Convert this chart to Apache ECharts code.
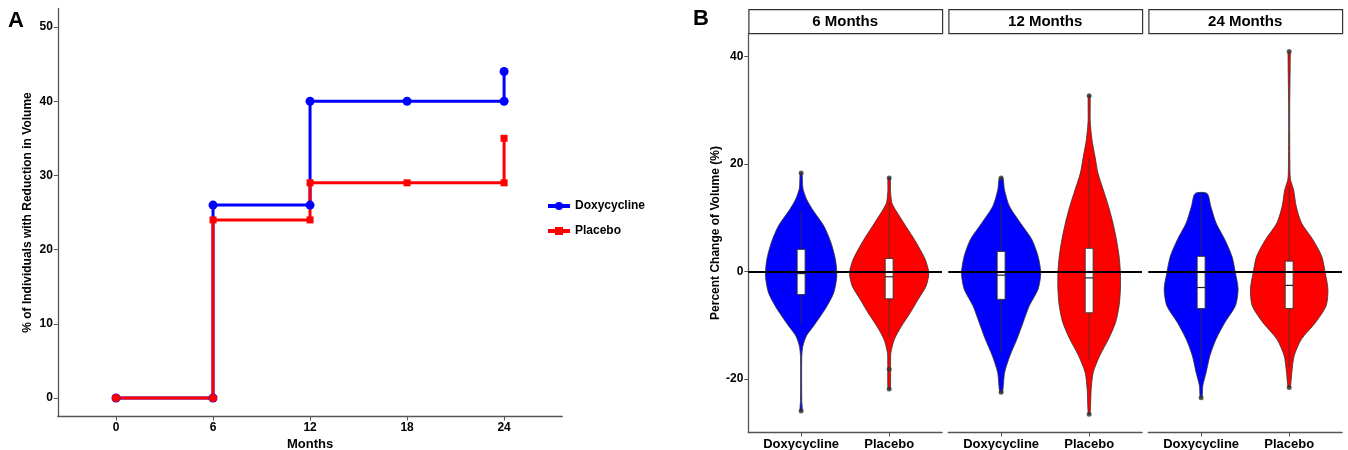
<!DOCTYPE html>
<html>
<head>
<meta charset="utf-8">
<script src="https://cdn.jsdelivr.net/npm/echarts@6/dist/echarts.min.js"></script>
<style>
  html, body { margin: 0; padding: 0; background: #fff; }
  #chart { width: 1348px; height: 450px; }
</style>
</head>
<body>
<div id="chart"></div>
<script>
// Panel A: step curve of % with reduction in volume
const panelAMonths = [0, 6, 6, 12, 12, 18, 24, 24];
const doxyPct = [0, 0, 26, 26, 40, 40, 40, 44];
const placeboPct = [0, 0, 24, 24, 29, 29, 29, 35];
const monthTicks = [0, 6, 12, 18, 24];
const pctTicks = [0, 10, 20, 30, 40, 50];

// Panel B: facets and groups
const facets = ["6 Months", "12 Months", "24 Months"];
const groups = ["Doxycycline", "Placebo"];
const changeTicks = [-20, 0, 20, 40];

// violin outlines: [percent change, half width in category units]
const violinDoxy6 = [[18.3, 0.01], [15.5, 0.02], [13.5, 0.06], [11.5, 0.13], [8.4, 0.26], [5.3, 0.34], [2.2, 0.39], [-0.9, 0.405], [-4.0, 0.37], [-7.1, 0.27], [-10.2, 0.14], [-12.0, 0.06], [-13.9, 0.02], [-16, 0.007], [-24, 0.007], [-26, 0.012]];
const violinPlacebo6 = [[17.4, 0.012], [15, 0.015], [12.8, 0.03], [11.5, 0.07], [8.4, 0.19], [5.3, 0.31], [2.2, 0.41], [-0.3, 0.45], [-2.7, 0.42], [-5.2, 0.33], [-7.7, 0.24], [-10.2, 0.14], [-12.6, 0.06], [-15.1, 0.02], [-17, 0.016], [-21.9, 0.013]];
const violinDoxy12 = [[17.4, 0.02], [15.2, 0.038], [12.1, 0.095], [9.0, 0.22], [5.9, 0.35], [2.8, 0.42], [-0.3, 0.45], [-3.3, 0.42], [-6.4, 0.32], [-9.5, 0.25], [-12.6, 0.18], [-15.7, 0.10], [-18.8, 0.04], [-22.5, 0.015]];
const violinPlacebo12 = [[32.7, 0.01], [28, 0.012], [24.5, 0.032], [21.4, 0.066], [18.3, 0.10], [15.2, 0.16], [12.1, 0.22], [9.0, 0.27], [5.9, 0.31], [2.8, 0.34], [-0.3, 0.355], [-3.3, 0.355], [-6.4, 0.34], [-9.5, 0.30], [-12.6, 0.22], [-15.7, 0.12], [-18.8, 0.046], [-21.9, 0.023], [-26.6, 0.01]];
const violinDoxy24 = [[14.5, 0.068], [12.1, 0.11], [9.0, 0.17], [5.9, 0.27], [2.8, 0.35], [-0.3, 0.39], [-3.3, 0.42], [-6.4, 0.39], [-9.5, 0.27], [-12.6, 0.17], [-15.7, 0.10], [-18.8, 0.057], [-21.2, 0.02], [-23.5, 0.01]];
const violinPlacebo24 = [[40.9, 0.01], [39, 0.012], [30, 0.006], [20, 0.008], [17.1, 0.015], [15.2, 0.05], [12.1, 0.08], [9.0, 0.14], [5.9, 0.27], [2.8, 0.37], [-0.3, 0.41], [-3.3, 0.44], [-6.4, 0.42], [-9.5, 0.30], [-12.6, 0.14], [-15.7, 0.057], [-18.8, 0.03], [-21.6, 0.012]];

// box stats: [low whisker, Q1, median, Q3, high whisker]
const boxDoxy6 = [-9.9, -4.3, -0.4, 4.1, 11.2];
const boxPlacebo6 = [-12.3, -5.1, -1.0, 2.4, 12.8];
const boxDoxy12 = [-15.1, -5.2, -0.7, 3.7, 12.8];
const boxPlacebo12 = [-16.4, -7.7, -1.2, 4.3, 21.1];
const boxDoxy24 = [-17.9, -6.9, -3.0, 2.8, 14.5];
const boxPlacebo24 = [-17.8, -6.9, -2.6, 1.9, 16.0];

// outlier dots
const outDoxy6 = [18.3, -26.0];
const outPlacebo6 = [17.4, -18.2, -21.9];
const outDoxy12 = [17.4, -22.5];
const outPlacebo12 = [32.7, -26.6];
const outDoxy24 = [-23.5];
const outPlacebo24 = [40.9, -21.6];

const violins = [[violinDoxy6, violinPlacebo6], [violinDoxy12, violinPlacebo12], [violinDoxy24, violinPlacebo24]];
const boxes = [[boxDoxy6, boxPlacebo6], [boxDoxy12, boxPlacebo12], [boxDoxy24, boxPlacebo24]];
const outliers = [[outDoxy6, outPlacebo6], [outDoxy12, outPlacebo12], [outDoxy24, outPlacebo24]];

const BLUE = "#0000FF";
const RED = "#FF0000";
const AXIS = "#555";
const FONT = "Liberation Sans, Arial, sans-serif";

const chart = echarts.init(document.getElementById("chart"), null, { renderer: "canvas" });

const grids = [{ left: 57.8, top: 8.5, width: 504.5, height: 408, outerBoundsMode: "none" }];
const xAxes = [{
  gridIndex: 0, type: "value", min: -3.6, max: 27.6,
  name: "Months", nameLocation: "middle", nameGap: 16,
  nameTextStyle: { fontFamily: FONT, fontWeight: "bold", fontSize: 13, color: "#000" },
  axisLine: { onZero: false, lineStyle: { color: AXIS, width: 1.3 } },
  axisTick: { customValues: monthTicks, length: 4, lineStyle: { color: AXIS } },
  axisLabel: { customValues: monthTicks, margin: 5, fontFamily: FONT, fontWeight: "bold", fontSize: 12, color: "#000" },
  splitLine: { show: false },
}];
const yAxes = [{
  gridIndex: 0, type: "value", min: -2.5, max: 52.5,
  name: "% of Individuals with Reduction in Volume", nameLocation: "middle", nameGap: 24, nameRotate: 90,
  nameTextStyle: { fontFamily: FONT, fontWeight: "bold", fontSize: 12, color: "#000" },
  axisLine: { show: true, onZero: false, lineStyle: { color: AXIS, width: 1.3 } },
  axisTick: { show: true, customValues: pctTicks, length: 4, lineStyle: { color: AXIS } },
  axisLabel: { customValues: pctTicks, margin: 5, fontFamily: FONT, fontWeight: "bold", fontSize: 12, color: "#000" },
  splitLine: { show: false },
}];

const series = [
  {
    name: "Doxycycline", type: "line", xAxisIndex: 0, yAxisIndex: 0,
    data: panelAMonths.map((m, i) => [m, doxyPct[i]]),
    symbol: "circle", symbolSize: 9,
    lineStyle: { color: BLUE, width: 3 }, itemStyle: { color: BLUE },
    animation: false,
  },
  {
    name: "Placebo", type: "line", xAxisIndex: 0, yAxisIndex: 0,
    data: panelAMonths.map((m, i) => ({ value: [m, placeboPct[i]], symbol: placeboPct[i] === 0 ? "circle" : "rect", symbolSize: placeboPct[i] === 0 ? 8 : 7 })),
    symbol: "rect", symbolSize: 7,
    lineStyle: { color: RED, width: 3 }, itemStyle: { color: RED },
    animation: false,
  },
];

const graphics = [
  { type: "text", left: 8, top: 10, style: { text: "A", font: "bold 22px " + FONT, fill: "#000" } },
  { type: "text", left: 693, top: 8, style: { text: "B", font: "bold 22px " + FONT, fill: "#000" } },
];

const facetLeft = [748.3, 948.3, 1148.3];
const facetWidth = 193.7;
const boxHalf = 0.045;

facets.forEach((f, fi) => {
  const gi = fi + 1;
  grids.push({ left: facetLeft[fi], top: 33.5, width: facetWidth, height: 399, outerBoundsMode: "none" });
  xAxes.push({
    gridIndex: gi, type: "value", min: 0.4, max: 2.6,
    axisLine: { onZero: false, lineStyle: { color: AXIS, width: 1.3 } },
    axisTick: { customValues: [1, 2], length: 4, lineStyle: { color: AXIS } },
    axisLabel: { customValues: [1, 2], margin: 5, formatter: (v) => groups[Math.round(v) - 1], fontFamily: FONT, fontWeight: "bold", fontSize: 13, color: "#000" },
    splitLine: { show: false },
  });
  yAxes.push({
    gridIndex: gi, type: "value", min: -29.98, max: 44.27,
    name: fi === 0 ? "Percent Change of Volume (%)" : "", nameLocation: "middle", nameGap: 26, nameRotate: 90,
    nameTextStyle: { fontFamily: FONT, fontWeight: "bold", fontSize: 12, color: "#000" },
    axisLine: { show: fi === 0, onZero: false, lineStyle: { color: AXIS, width: 1.3 } },
    axisTick: { show: fi === 0, customValues: changeTicks, length: 4, lineStyle: { color: AXIS } },
    axisLabel: { show: fi === 0, customValues: changeTicks, margin: 5, fontFamily: FONT, fontWeight: "bold", fontSize: 12, color: "#000" },
    splitLine: { show: false },
  });

  series.push({
    type: "custom", xAxisIndex: gi, yAxisIndex: gi,
    data: groups.map((g, k) => [k + 1, k]),
    renderItem: (params, api) => {
      const xc = api.value(0);
      const k = api.value(1);
      const prof = violins[fi][k];
      const b = boxes[fi][k];
      const right = prof.map(([v, hw]) => api.coord([xc + hw, v]));
      const left = prof.slice().reverse().map(([v, hw]) => api.coord([xc - hw, v]));
      const p1 = api.coord([xc - boxHalf, b[3]]);
      const p2 = api.coord([xc + boxHalf, b[1]]);
      const wTop = api.coord([xc, b[4]]);
      const wBot = api.coord([xc, b[0]]);
      const mL = api.coord([xc - boxHalf, b[2]]);
      const mR = api.coord([xc + boxHalf, b[2]]);
      return {
        type: "group",
        children: [
          { type: "polygon", shape: { points: right.concat(left), smooth: 0.25 },
            style: { fill: k === 0 ? BLUE : RED, stroke: "#333", lineWidth: 0.8 } },
          { type: "line", shape: { x1: wTop[0], y1: wTop[1], x2: wBot[0], y2: wBot[1] },
            style: { stroke: "#333", lineWidth: 0.8 } },
          { type: "rect", shape: { x: p1[0], y: p1[1], width: p2[0] - p1[0], height: p2[1] - p1[1] },
            style: { fill: "#fff", stroke: "#333", lineWidth: 0.9 } },
          { type: "line", shape: { x1: mL[0], y1: mL[1], x2: mR[0], y2: mR[1] },
            style: { stroke: "#222", lineWidth: 1.2 } },
        ],
      };
    },
    animation: false, silent: true,
  });

  const pts = [];
  groups.forEach((g, k) => outliers[fi][k].forEach((v) => pts.push([k + 1, v])));
  series.push({
    type: "scatter", xAxisIndex: gi, yAxisIndex: gi, data: pts,
    symbolSize: 5, itemStyle: { color: "#333" }, z: 5,
    markLine: {
      silent: true, symbol: "none", label: { show: false },
      lineStyle: { color: "#000", width: 2.2, type: "solid" },
      data: [{ yAxis: 0 }],
    },
    animation: false, silent: true,
  });

  graphics.push({
    type: "rect", left: facetLeft[fi], top: 9,
    shape: { width: facetWidth, height: 24 },
    style: { fill: "#fff", stroke: "#333", lineWidth: 1.2 },
  });
  graphics.push({
    type: "text", x: facetLeft[fi] + facetWidth / 2, y: 21.5,
    style: { text: f, font: "bold 15px " + FONT, fill: "#000", align: "center", verticalAlign: "middle" },
  });
});

chart.setOption({
  backgroundColor: "#fff",
  animation: false,
  grid: grids,
  xAxis: xAxes,
  yAxis: yAxes,
  legend: {
    data: groups, orient: "vertical", left: 541, top: 195,
    itemWidth: 22, itemHeight: 10, itemGap: 13,
    lineStyle: { width: 4 },
    textStyle: { fontFamily: FONT, fontWeight: "bold", fontSize: 12, color: "#000" },
  },
  graphic: graphics,
  series,
});

window.addEventListener("resize", () => chart.resize());
</script>
</body>
</html>
